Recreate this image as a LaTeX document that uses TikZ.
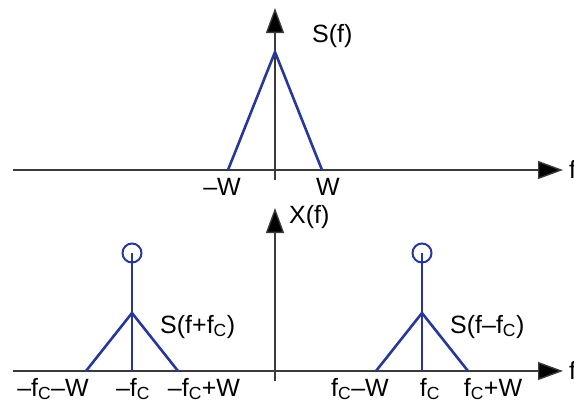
\documentclass[tikz,border=0pt]{standalone}
\usepackage{fontspec}
\setmainfont{Liberation Sans}
\usetikzlibrary{arrows.meta}
\definecolor{Axis}{HTML}{3A3A3A}
\definecolor{Spec}{HTML}{28389A}
\newcommand{\fc}{f\textsubscript{C}}

\begin{document}
\begin{tikzpicture}[x=1pt,y=-1pt]
      \tikzstyle{axis}=[draw=Axis, line width=1.4pt,
        -{Triangle[length=25pt,width=18pt,fill=black]}]
      \tikzstyle{spec}=[draw=Spec, line width=2.6pt, line join=miter]
      \tikzstyle{lbl}=[inner sep=0pt, anchor=base, font=\fontsize{25}{28}\selectfont]
      \tikzstyle{ttl}=[inner sep=0pt, anchor=base west, font=\fontsize{25}{28}\selectfont]
      \useasboundingbox (0,0) rectangle (574,402);
      % top: S(f)
      \coordinate (t0) at (275,170);
      \coordinate (tpk) at (275,52);
      \coordinate (tl) at (228,170);
      \coordinate (tr) at (322,170);
      \draw[axis] (13,170) -- (563,170);
      \draw[axis] (275,180) -- (275,8);
      \draw[spec] (tl) -- (tpk) -- (tr);
      \node[ttl] (sf) at (312,42) {S(f)};
      \node[lbl] (mw) at (222,195) {–W};
      \node[lbl] (w) at (328,195) {W};
      \node[ttl] (ft) at (569,178) {f};
      % bottom: X(f)
      \draw[axis] (13,371) -- (563,371);
      \draw[axis] (275,381) -- (275,208);
      \node[ttl] (xf) at (289,223) {X(f)};
      \node[ttl] (fb) at (569,379) {f};
      % spectrum at -fc and +fc
      \foreach \c/\n in {132/l, 422/r}{
        \coordinate (\n pk) at (\c,313);
        \coordinate (\n 0) at (\c,371);
        \node[draw=Spec, line width=2pt, circle, minimum size=19pt, inner sep=0pt]
          (\n imp) at (\c,253) {};
        \draw[spec] (\c-46,371) -- (\n pk) -- (\c+46,371);
        \draw[spec] (\n 0) -- (\n imp.center);
      }
      \node[ttl] (sl) at (160,333) {S(f+\fc)};
      \node[ttl] (sr) at (450,333) {S(f–\fc)};
      \node[lbl] (l1) at (53,396) {–\fc–W};
      \node[lbl] (l2) at (133,396) {–\fc};
      \node[lbl] (l3) at (204,396) {–\fc+W};
      \node[lbl] (r1) at (360,396) {\fc–W};
      \node[lbl] (r2) at (430,396) {\fc};
      \node[lbl] (r3) at (493,396) {\fc+W};
    \end{tikzpicture}
\end{document}
